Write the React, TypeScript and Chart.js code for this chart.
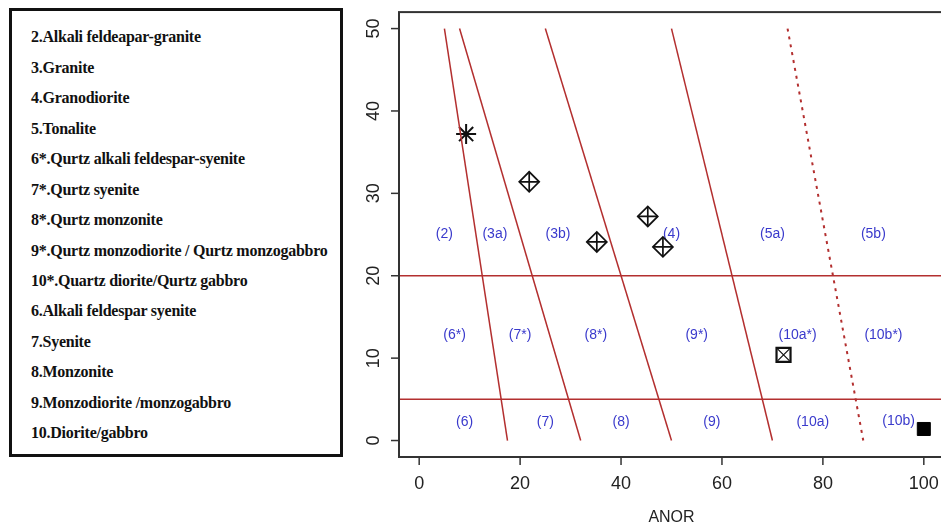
import React, { useEffect, useRef } from "react";
import { Chart, registerables } from "chart.js";

Chart.register(...registerables);

// ---- data ----
const xTicks = [0, 20, 40, 60, 80, 100];
const xTickLabels = ["0", "20", "40", "60", "80", "100"];
const yTicks = [0, 10, 20, 30, 40, 50];
const yTickLabels = ["0", "10", "20", "30", "40", "50"];
const xAxisTitle = "ANOR";

// field boundaries (x at y = 50 and x at y = 0)
const boundaryY = [50, 0];
const solidTopX = [5, 8, 25, 50];
const solidBottomX = [17.5, 32, 50, 70];
const dottedX = [73, 88];
const horizontalY = [20, 5];
const xExtent = [-4, 104];

// samples
const starX = [9.3];
const starY = [37.2];
const diamondX = [21.8, 35.2, 45.3, 48.3];
const diamondY = [31.4, 24.1, 27.2, 23.5];
const boxedX = [72.2];
const boxedY = [10.4];
const squareX = [100];
const squareY = [1.4];

// field labels
const fieldLabels = [
  "(2)", "(3a)", "(3b)", "(4)", "(5a)", "(5b)",
  "(6*)", "(7*)", "(8*)", "(9*)", "(10a*)", "(10b*)",
  "(6)", "(7)", "(8)", "(9)", "(10a)", "(10b)",
];
const fieldLabelX = [5, 15, 27.5, 50, 70, 90, 7, 20, 35, 55, 75, 92, 9, 25, 40, 58, 78, 95];
const fieldLabelY = [25, 25, 25, 25, 25, 25, 12.8, 12.8, 12.8, 12.8, 12.8, 12.8, 2.2, 2.2, 2.2, 2.2, 2.2, 2.3];

const legendItems = [
  "2.Alkali feldeapar-granite",
  "3.Granite",
  "4.Granodiorite",
  "5.Tonalite",
  "6*.Qurtz alkali feldespar-syenite",
  "7*.Qurtz syenite",
  "8*.Qurtz monzonite",
  "9*.Qurtz monzodiorite / Qurtz monzogabbro",
  "10*.Quartz diorite/Qurtz gabbro",
  "6.Alkali feldespar syenite",
  "7.Syenite",
  "8.Monzonite",
  "9.Monzodiorite /monzogabbro",
  "10.Diorite/gabbro",
];

const RED = "#b32f2f";
const BLUE = "#3a3acc";
const AXIS_FONT = '18px "Liberation Sans", Arial, sans-serif';

const pts = (xs: number[], ys: number[]) => xs.map((x, i) => ({ x, y: ys[i] }));

export default function App() {
  const ref = useRef<HTMLCanvasElement | null>(null);

  useEffect(() => {
    const canvas = ref.current;
    if (!canvas) return;

    const lineBase = { showLine: true, pointRadius: 0, fill: false, borderColor: RED, borderWidth: 1.5 };
    const datasets: any[] = [];
    solidTopX.forEach((tx, i) => {
      datasets.push({ ...lineBase, data: [{ x: tx, y: boundaryY[0] }, { x: solidBottomX[i], y: boundaryY[1] }] });
    });
    datasets.push({
      ...lineBase,
      borderWidth: 2,
      borderDash: [3, 5],
      data: [{ x: dottedX[0], y: boundaryY[0] }, { x: dottedX[1], y: boundaryY[1] }],
    });
    horizontalY.forEach((hy) => {
      datasets.push({ ...lineBase, data: [{ x: xExtent[0], y: hy }, { x: xExtent[1], y: hy }] });
    });
    const mark = { showLine: false, pointBorderColor: "#111", pointBackgroundColor: "rgba(0,0,0,0)" };
    datasets.push({ ...mark, data: pts(starX, starY), pointStyle: "star", pointRadius: 10, pointBorderWidth: 2 });
    datasets.push({ ...mark, data: pts(diamondX, diamondY), pointStyle: "rectRot", pointRadius: 10, pointBorderWidth: 1.7 });
    datasets.push({ ...mark, data: pts(diamondX, diamondY), pointStyle: "cross", pointRadius: 10, pointBorderWidth: 1.7 });
    datasets.push({ ...mark, data: pts(boxedX, boxedY), pointStyle: "rect", pointRadius: 9.9, pointBorderWidth: 2.2 });
    datasets.push({ ...mark, data: pts(boxedX, boxedY), pointStyle: "crossRot", pointRadius: 8.5, pointBorderWidth: 1.2 });
    datasets.push({
      ...mark,
      data: pts(squareX, squareY),
      pointStyle: "rect",
      pointRadius: 9.2,
      pointBorderWidth: 1,
      pointBackgroundColor: "#000",
      pointBorderColor: "#000",
    });

    const drawPlugin = {
      id: "rStyle",
      beforeDatasetsDraw(chart: any) {
        const { ctx, scales } = chart;
        ctx.save();
        ctx.fillStyle = BLUE;
        ctx.font = '14px "Liberation Sans", Arial, sans-serif';
        ctx.textAlign = "center";
        ctx.textBaseline = "middle";
        fieldLabels.forEach((t, i) => {
          ctx.fillText(t, scales.x.getPixelForValue(fieldLabelX[i]), scales.y.getPixelForValue(fieldLabelY[i]));
        });
        ctx.restore();
      },
      afterDraw(chart: any) {
        const { ctx, chartArea: a, scales } = chart;
        ctx.save();
        ctx.strokeStyle = "#333";
        ctx.lineWidth = 2;
        ctx.strokeRect(a.left, a.top, a.right - a.left, a.bottom - a.top);
        ctx.lineWidth = 1.5;
        ctx.fillStyle = "#222";
        ctx.font = AXIS_FONT;
        ctx.textAlign = "center";
        ctx.textBaseline = "middle";
        xTicks.forEach((v, i) => {
          const px = scales.x.getPixelForValue(v);
          ctx.beginPath();
          ctx.moveTo(px, a.bottom);
          ctx.lineTo(px, a.bottom + 8);
          ctx.stroke();
          ctx.fillText(xTickLabels[i], px, a.bottom + 27);
        });
        yTicks.forEach((v, i) => {
          const py = scales.y.getPixelForValue(v);
          ctx.beginPath();
          ctx.moveTo(a.left, py);
          ctx.lineTo(a.left - 8, py);
          ctx.stroke();
          ctx.save();
          ctx.translate(a.left - 25, py);
          ctx.rotate(-Math.PI / 2);
          ctx.fillText(yTickLabels[i], 0, 0);
          ctx.restore();
        });
        ctx.restore();
      },
    };

    const chart = new Chart(canvas, {
      type: "scatter",
      data: { datasets },
      options: {
        responsive: false,
        animation: false,
        layout: { padding: { top: 8, right: 16, left: 0, bottom: 0 } },
        plugins: { legend: { display: false }, tooltip: { enabled: false } },
        scales: {
          x: {
            type: "linear",
            min: xExtent[0],
            max: xExtent[1],
            grid: { display: false },
            border: { display: false },
            ticks: { display: false },
            title: {
              display: true,
              text: xAxisTitle,
              color: "#222",
              font: { family: '"Liberation Sans", Arial, sans-serif', size: 16 },
              padding: { top: 0, bottom: 1 },
            },
            afterFit: (s: any) => {
              s.height = 71;
            },
          },
          y: {
            type: "linear",
            min: -2,
            max: 52,
            grid: { display: false },
            border: { display: false },
            ticks: { display: false },
            afterFit: (s: any) => {
              s.width = 399;
            },
          },
        },
      },
      plugins: [drawPlugin],
    } as any);

    return () => chart.destroy();
  }, []);

  const step = (433.3 - 37.3) / (legendItems.length - 1);

  return (
    <div
      style={{
        position: "fixed",
        left: 0,
        top: 0,
        width: 941,
        height: 528,
        overflow: "hidden",
        background: "#fff",
      }}
    >
      <canvas ref={ref} width={960} height={528} style={{ position: "absolute", left: 0, top: 0, width: 960, height: 528 }} />
      <div
        style={{
          position: "absolute",
          left: 9,
          top: 8,
          width: 334,
          height: 449,
          border: "3px solid #111",
          boxSizing: "border-box",
          background: "#fff",
        }}
      />
      {legendItems.map((t, i) => (
        <div
          key={i}
          style={{
            position: "absolute",
            left: 31,
            top: 37.3 + i * step - 10,
            font: 'bold 16px "Liberation Serif", "Times New Roman", serif',
            lineHeight: "19px",
            color: "#111",
            whiteSpace: "nowrap",
            letterSpacing: "-0.25px",
          }}
        >
          {t}
        </div>
      ))}
    </div>
  );
}
